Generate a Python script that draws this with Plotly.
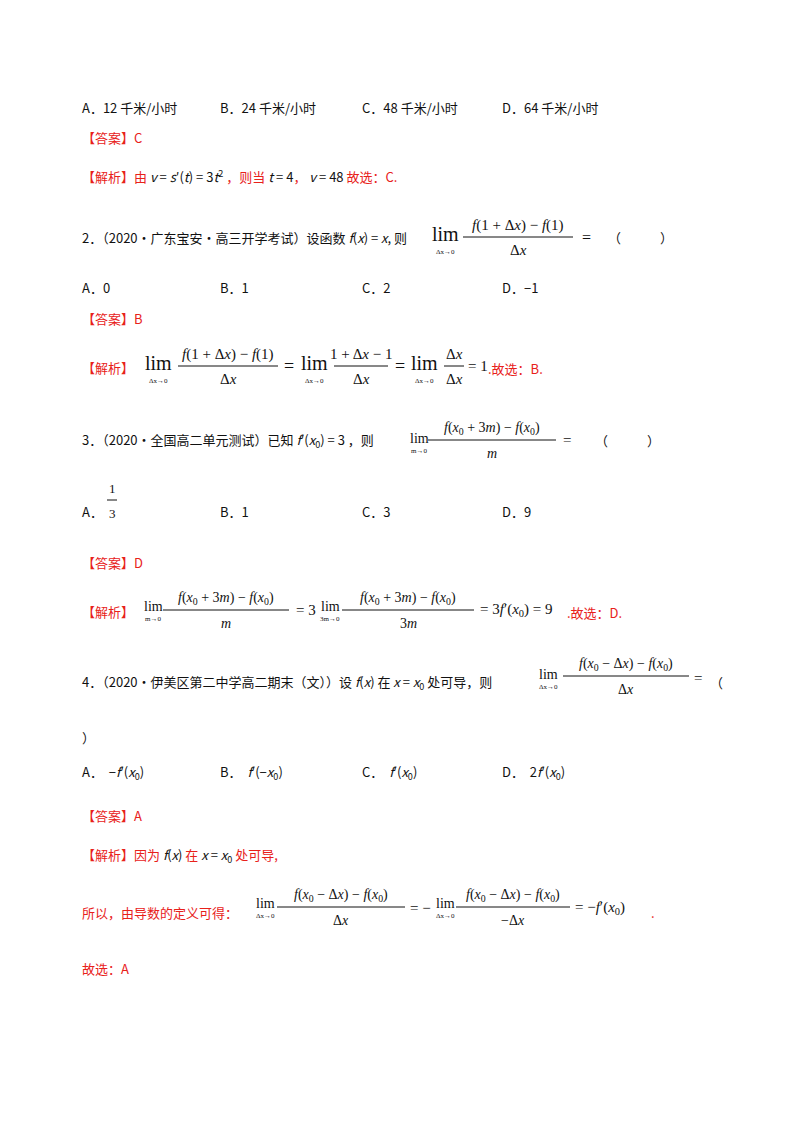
import plotly.graph_objects as go

RED = "#e8211a"
BLK = "#111111"
CJK = "Noto Sans CJK SC, Liberation Serif"
SER = "Liberation Serif, Noto Sans CJK SC"
DY = -8

# text lines: (x, y, text, color, size, font)
texts = [
    (72, 107, "A．12 千米/小时", BLK, 13, CJK),
    (210, 107, "B．24 千米/小时", BLK, 13, CJK),
    (352, 107, "C．48 千米/小时", BLK, 13, CJK),
    (492, 107, "D．64 千米/小时", BLK, 13, CJK),
    (72, 137, "【答案】C", RED, 13, CJK),
    (72, 176, "【解析】由 <span style='color:#111'><i>v</i> = <i>s</i>′(<i>t</i>) = 3<i>t</i><sup>2</sup></span> ，则当 <span style='color:#111'><i>t</i> = 4</span>， <span style='color:#111'><i>v</i> = 48</span> 故选：C.", RED, 13, CJK),
    (72, 237, "2．（2020·广东宝安·高三开学考试）设函数 <i>f</i>(<i>x</i>) = <i>x</i>, 则", BLK, 13, CJK),
    (572, 237, "=", BLK, 16, SER),
    (598, 237, "（　　　）", BLK, 13, CJK),
    (72, 287, "A．0", BLK, 13, CJK), (210, 287, "B．1", BLK, 13, CJK),
    (352, 287, "C．2", BLK, 13, CJK), (492, 287, "D．−1", BLK, 13, CJK),
    (72, 318, "【答案】B", RED, 13, CJK),
    (72, 367, "【解析】", RED, 13, CJK),
    (274, 366, "=", BLK, 18, SER), (385, 366, "=", BLK, 18, SER),
    (458, 366, "= 1", BLK, 15, SER), (478, 368, ".故选：B.", RED, 13, CJK),
    (72, 440, "3．（2020·全国高二单元测试）已知 <i>f</i>′(<i>x</i><sub>0</sub>) = 3 ，则", BLK, 13, CJK),
    (553, 440, "=", BLK, 15, SER), (585, 440, "（　　　）", BLK, 13, CJK),
    (72, 511, "A．", BLK, 13, CJK), (210, 511, "B．1", BLK, 13, CJK),
    (352, 511, "C．3", BLK, 13, CJK), (492, 511, "D．9", BLK, 13, CJK),
    (72, 562, "【答案】D", RED, 13, CJK),
    (72, 611, "【解析】", RED, 13, CJK),
    (286, 610, "= 3", BLK, 15, SER),
    (470, 610, "= 3<i>f</i>′(<i>x</i><sub>0</sub>) = 9", BLK, 15, SER),
    (557, 612, ".故选：D.", RED, 13, CJK),
    (72, 682, "4．（2020·伊美区第二中学高二期末（文））设 <i>f</i>(<i>x</i>) 在 <i>x</i> = <i>x</i><sub>0</sub> 处可导，则", BLK, 13, CJK),
    (684, 678, "=", BLK, 15, SER), (700, 682, "（", BLK, 13, CJK),
    (72, 737, "）", BLK, 13, CJK),
    (72, 772, "A．  −<i>f</i>′(<i>x</i><sub>0</sub>)", BLK, 13, CJK),
    (210, 772, "B．  <i>f</i>′(−<i>x</i><sub>0</sub>)", BLK, 13, CJK),
    (352, 772, "C．  <i>f</i>′(<i>x</i><sub>0</sub>)", BLK, 13, CJK),
    (492, 772, "D．  2<i>f</i>′(<i>x</i><sub>0</sub>)", BLK, 13, CJK),
    (72, 815, "【答案】A", RED, 13, CJK),
    (72, 855, "【解析】因为 <span style='color:#111'><i>f</i>(<i>x</i>)</span> 在 <span style='color:#111'><i>x</i> = <i>x</i><sub>0</sub></span> 处可导,", RED, 13, CJK),
    (72, 912, "所以，由导数的定义可得：", RED, 13, CJK),
    (400, 908, "= −", BLK, 15, SER),
    (565, 908, "= −<i>f</i>′(<i>x</i><sub>0</sub>)", BLK, 15, SER),
    (641, 912, ".", RED, 13, CJK),
    (72, 968, "故选：A", RED, 13, CJK),
]

# limits: (x_center, y, subscript, size)
lims = [
    (437, 234, "Δx→0", 20), (150, 363, "Δx→0", 20), (306, 363, "Δx→0", 20),
    (416, 363, "Δx→0", 20), (411, 438, "m→0", 14), (145, 606, "m→0", 14),
    (322, 606, "3m→0", 14), (540, 674, "Δx→0", 14), (257, 903, "Δx→0", 14),
    (437, 903, "Δx→0", 14),
]

# fractions: (x_center, y_line, half_width, numerator, denominator, size)
fracs = [
    (510, 237, 55, "<i>f</i>(1 + Δ<i>x</i>) − <i>f</i>(1)", "Δ<i>x</i>", 15),
    (220, 366, 50, "<i>f</i>(1 + Δ<i>x</i>) − <i>f</i>(1)", "Δ<i>x</i>", 15),
    (353, 366, 27, "1 + Δ<i>x</i> − 1", "Δ<i>x</i>", 15),
    (446, 366, 10, "Δ<i>x</i>", "Δ<i>x</i>", 15),
    (484, 440, 64, "<i>f</i>(<i>x</i><sub>0</sub> + 3<i>m</i>) − <i>f</i>(<i>x</i><sub>0</sub>)", "<i>m</i>", 14),
    (104, 500, 5, "1", "3", 13),
    (218, 610, 63, "<i>f</i>(<i>x</i><sub>0</sub> + 3<i>m</i>) − <i>f</i>(<i>x</i><sub>0</sub>)", "<i>m</i>", 14),
    (400, 610, 66, "<i>f</i>(<i>x</i><sub>0</sub> + 3<i>m</i>) − <i>f</i>(<i>x</i><sub>0</sub>)", "3<i>m</i>", 14),
    (618, 676, 63, "<i>f</i>(<i>x</i><sub>0</sub> − Δ<i>x</i>) − <i>f</i>(<i>x</i><sub>0</sub>)", "Δ<i>x</i>", 14),
    (333, 907, 64, "<i>f</i>(<i>x</i><sub>0</sub> − Δ<i>x</i>) − <i>f</i>(<i>x</i><sub>0</sub>)", "Δ<i>x</i>", 14),
    (505, 907, 57, "<i>f</i>(<i>x</i><sub>0</sub> − Δ<i>x</i>) − <i>f</i>(<i>x</i><sub>0</sub>)", "−Δ<i>x</i>", 14),
]

fig = go.Figure()
anns, shapes = [], []
for x, y, t, c, s, f in texts:
    anns.append(dict(x=x, y=y + DY, text=t, xanchor="left", yanchor="middle",
                     font=dict(color=c, size=s, family=f), showarrow=False))
for x, y, sub, s in lims:
    anns.append(dict(x=x, y=y + DY, text="lim", xanchor="center", yanchor="middle",
                     font=dict(color=BLK, size=s, family=SER), showarrow=False))
    anns.append(dict(x=x, y=y + DY + s * 0.8 + 2, text=sub, xanchor="center", yanchor="middle",
                     font=dict(color=BLK, size=7, family=SER), showarrow=False))
for x, y, w, n, d, s in fracs:
    anns.append(dict(x=x, y=y + DY - 12, text=n, xanchor="center", yanchor="middle",
                     font=dict(color=BLK, size=s, family=SER), showarrow=False))
    anns.append(dict(x=x, y=y + DY + 13, text=d, xanchor="center", yanchor="middle",
                     font=dict(color=BLK, size=s, family=SER), showarrow=False))
    shapes.append(dict(type="line", x0=x - w, x1=x + w, y0=y + DY, y1=y + DY,
                       line=dict(color=BLK, width=1)))

fig.update_layout(width=800, height=1132, margin=dict(l=0, r=0, t=0, b=0),
                  paper_bgcolor="white", plot_bgcolor="white",
                  xaxis=dict(range=[0, 800], visible=False, fixedrange=True),
                  yaxis=dict(range=[1132, 0], visible=False, fixedrange=True),
                  annotations=anns, shapes=shapes, showlegend=False)
fig.write_html("out.html")
